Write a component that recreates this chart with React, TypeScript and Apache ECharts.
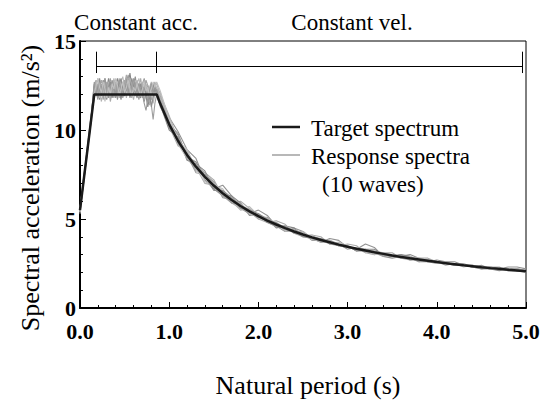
import React, { useEffect, useRef } from "react";
import * as echarts from "echarts";

// Natural periods (s) shared by the 10 response spectra
const periods = [
  0, 0.04, 0.08, 0.12,
  0.16, 0.18, 0.2, 0.22, 0.24, 0.26, 0.28, 0.3, 0.32, 0.34, 0.36, 0.38,
  0.4, 0.42, 0.44, 0.46, 0.48, 0.5, 0.52, 0.54, 0.56, 0.58, 0.6, 0.62,
  0.64, 0.66, 0.68, 0.7, 0.72, 0.74, 0.76, 0.78, 0.8, 0.82, 0.84, 0.86,
  0.9,
  1.0, 1.1, 1.2, 1.3, 1.4, 1.5, 1.6, 1.7, 1.8, 1.9,
  2.0, 2.1, 2.2, 2.3, 2.4, 2.5, 2.6, 2.7, 2.8, 2.9,
  3.0, 3.1, 3.2, 3.3, 3.4, 3.5, 3.6, 3.7, 3.8, 3.9,
  4.0, 4.1, 4.2, 4.3, 4.4, 4.5, 4.6, 4.7, 4.8, 4.9,
  5.0,
];

// Response spectra (m/s^2), one array per wave, aligned with periods
const wave1 = [
  5.4, 7.1, 8.9, 10.6,
  12.3, 12.8, 12.1, 12.6, 11.9, 12.4, 12.9, 12.2, 11.8, 12.5, 12.7, 12.0,
  12.4, 11.7, 12.3, 12.8, 12.5, 12.1, 12.9, 12.4, 11.8, 12.2, 12.6, 13.0,
  12.3, 11.9, 12.4, 12.1, 11.6, 12.0, 12.5, 12.2, 11.7, 12.3, 12.6, 12.1,
  11.9,
  10.7, 9.9, 8.9, 8.4, 7.2, 6.7, 6.9, 6.3, 5.6, 5.3,
  5.5, 5.2, 4.6, 4.3, 4.5, 4.3, 3.9, 3.7, 3.9, 3.8,
  3.4, 3.3, 3.6, 3.4, 2.9, 2.8, 2.9, 3.0, 2.8, 2.6,
  2.5, 2.6, 2.6, 2.4, 2.3, 2.3, 2.3, 2.2, 2.3, 2.3,
  2.2,
];
const wave2 = [
  5.6, 7.3, 8.7, 10.3,
  11.9, 12.4, 12.9, 12.3, 12.6, 11.8, 12.2, 12.7, 12.4, 11.6, 12.1, 12.8,
  12.5, 12.2, 12.9, 12.3, 11.9, 12.6, 13.1, 12.5, 12.2, 11.8, 12.4, 12.7,
  12.0, 12.5, 12.9, 12.2, 11.7, 12.3, 12.0, 11.4, 11.9, 12.4, 12.7, 12.3,
  12.1,
  10.2, 9.1, 8.9, 7.7, 7.6, 7.2, 6.3, 5.9, 6.0, 5.6,
  5.0, 4.8, 4.9, 4.7, 4.2, 4.0, 4.1, 4.0, 3.6, 3.5,
  3.6, 3.5, 3.1, 3.0, 3.1, 3.1, 2.8, 2.7, 2.8, 2.8,
  2.6, 2.4, 2.5, 2.5, 2.3, 2.2, 2.3, 2.3, 2.1, 2.1,
  2.1,
];
const wave3 = [
  5.5, 7.0, 8.8, 10.4,
  12.6, 12.1, 12.5, 11.7, 12.2, 12.8, 12.0, 12.3, 12.9, 12.4, 11.8, 12.3,
  12.6, 12.9, 12.2, 11.7, 12.4, 12.8, 12.1, 12.6, 13.2, 12.5, 12.0, 12.4,
  12.7, 12.1, 11.8, 12.5, 12.3, 11.9, 11.3, 11.8, 12.2, 12.6, 12.2, 11.9,
  11.4,
  10.0, 9.6, 8.3, 8.1, 7.7, 6.7, 6.3, 6.3, 5.9, 5.2,
  5.3, 5.0, 4.5, 4.6, 4.5, 4.0, 3.9, 3.9, 3.7, 3.5,
  3.5, 3.2, 3.3, 3.3, 3.0, 2.9, 3.0, 2.9, 2.6, 2.6,
  2.7, 2.6, 2.4, 2.4, 2.4, 2.3, 2.2, 2.1, 2.2, 2.2,
  2.1,
];
const wave4 = [
  5.3, 7.2, 8.9, 10.6,
  12.1, 12.7, 12.3, 11.8, 12.5, 12.2, 11.6, 12.3, 12.7, 12.1, 12.5, 11.9,
  12.6, 12.3, 12.0, 12.7, 13.0, 12.4, 12.0, 12.5, 12.1, 12.7, 12.3, 11.9,
  12.6, 12.9, 12.4, 11.9, 12.2, 12.6, 12.3, 11.8, 12.1, 11.5, 12.0, 12.4,
  11.8,
  10.6, 9.2, 8.4, 8.2, 7.1, 6.9, 6.7, 5.9, 5.6, 5.7,
  5.2, 4.8, 4.6, 4.6, 4.4, 4.1, 4.1, 3.8, 3.6, 3.7,
  3.5, 3.3, 3.2, 3.0, 3.1, 3.0, 2.8, 2.8, 2.8, 2.7,
  2.5, 2.5, 2.5, 2.3, 2.4, 2.3, 2.2, 2.2, 2.2, 2.1,
  2.1,
];
const wave5 = [
  5.5, 7.1, 8.6, 10.3,
  12.4, 11.9, 12.3, 12.8, 12.2, 11.7, 12.4, 12.0, 12.5, 12.9, 12.3, 11.8,
  12.2, 12.6, 12.1, 12.4, 11.9, 12.3, 12.7, 13.1, 12.6, 12.0, 12.3, 12.6,
  12.2, 11.7, 12.1, 12.6, 12.9, 12.4, 12.0, 12.3, 11.4, 10.6, 11.5, 12.0,
  11.3,
  10.4, 9.7, 8.6, 7.6, 7.5, 7.1, 6.2, 6.1, 5.9, 5.3,
  5.1, 5.1, 4.7, 4.4, 4.4, 4.2, 3.8, 3.8, 3.8, 3.6,
  3.3, 3.4, 3.3, 3.1, 2.9, 3.0, 2.9, 2.8, 2.6, 2.7,
  2.6, 2.5, 2.4, 2.4, 2.4, 2.2, 2.2, 2.2, 2.2, 2.1,
  2.0,
];
const wave6 = [
  5.6, 7.2, 8.8, 10.5,
  11.8, 12.3, 12.6, 12.1, 11.6, 12.2, 12.7, 12.4, 12.0, 12.6, 12.3, 12.9,
  12.4, 11.9, 12.4, 12.1, 12.7, 12.4, 11.8, 12.3, 12.8, 12.2, 11.7, 12.2,
  12.8, 12.4, 12.0, 12.6, 12.8, 12.3, 11.8, 12.4, 12.7, 12.2, 12.5, 12.6,
  12.0,
  10.8, 9.4, 8.8, 7.9, 7.0, 6.9, 6.6, 6.0, 5.5, 5.6,
  5.2, 4.8, 4.8, 4.3, 4.3, 4.3, 3.9, 3.7, 3.8, 3.5,
  3.4, 3.4, 3.1, 3.2, 3.1, 2.9, 2.8, 2.9, 2.7, 2.6,
  2.6, 2.6, 2.4, 2.4, 2.3, 2.3, 2.3, 2.2, 2.1, 2.1,
  2.1,
];
const wave7 = [
  5.4, 7.0, 8.7, 10.4,
  12.5, 12.0, 12.4, 12.9, 12.3, 12.6, 12.1, 11.7, 12.3, 12.7, 12.2, 12.5,
  11.8, 12.2, 12.6, 12.9, 12.3, 11.9, 12.5, 12.1, 12.4, 12.9, 12.5, 12.1,
  11.8, 12.3, 12.6, 12.0, 12.4, 12.1, 11.6, 12.0, 11.3, 11.8, 12.3, 12.0,
  11.5,
  10.1, 9.5, 8.5, 8.2, 7.4, 6.6, 6.6, 6.2, 5.6, 5.5,
  5.3, 4.8, 4.6, 4.6, 4.3, 4.0, 4.0, 3.9, 3.6, 3.6,
  3.5, 3.2, 3.2, 3.2, 3.0, 2.9, 3.0, 2.7, 2.7, 2.7,
  2.6, 2.5, 2.5, 2.4, 2.3, 2.4, 2.2, 2.2, 2.2, 2.1,
  2.1,
];
const wave8 = [
  5.5, 7.3, 8.9, 10.6,
  12.2, 12.6, 11.8, 12.3, 12.8, 12.5, 12.0, 12.6, 12.2, 11.8, 12.4, 12.0,
  12.7, 12.3, 11.8, 12.4, 12.2, 12.8, 12.5, 12.0, 12.5, 12.3, 12.8, 12.4,
  12.0, 12.6, 12.2, 11.8, 12.4, 12.8, 12.5, 12.1, 12.6, 12.3, 11.9, 12.3,
  11.7,
  10.5, 9.2, 8.7, 8.0, 7.6, 6.8, 6.3, 6.2, 5.8, 5.4,
  5.0, 5.0, 4.7, 4.4, 4.3, 4.2, 4.0, 3.7, 3.7, 3.6,
  3.4, 3.3, 3.3, 3.1, 3.0, 3.0, 2.9, 2.8, 2.7, 2.6,
  2.6, 2.5, 2.5, 2.4, 2.3, 2.2, 2.3, 2.2, 2.2, 2.2,
  2.1,
];
const wave9 = [
  5.6, 7.1, 8.8, 10.4,
  12.7, 12.2, 11.7, 12.4, 12.0, 12.6, 12.9, 12.3, 11.9, 12.3, 12.8, 12.4,
  11.9, 12.5, 12.8, 12.2, 11.8, 12.2, 12.6, 12.3, 11.9, 12.5, 12.9, 12.4,
  12.1, 12.6, 12.3, 12.0, 11.5, 11.1, 11.7, 12.2, 12.6, 12.1, 12.4, 12.2,
  11.6,
  10.3, 9.8, 8.4, 7.8, 7.5, 7.0, 6.4, 5.9, 5.8, 5.5,
  5.1, 4.9, 4.8, 4.5, 4.2, 4.1, 3.9, 3.8, 3.7, 3.5,
  3.4, 3.3, 3.2, 3.1, 3.0, 2.9, 2.9, 2.8, 2.7, 2.6,
  2.6, 2.5, 2.4, 2.4, 2.3, 2.3, 2.2, 2.2, 2.1, 2.1,
  2.1,
];
const wave10 = [
  5.4, 7.2, 8.7, 10.5,
  12.0, 12.5, 12.9, 12.4, 12.1, 12.7, 12.3, 11.8, 12.4, 12.0, 12.6, 12.3,
  12.9, 12.5, 12.0, 12.3, 12.7, 12.1, 12.4, 12.8, 12.3, 11.9, 12.4, 12.2,
  12.6, 12.2, 11.9, 12.3, 12.7, 12.2, 12.4, 11.9, 12.3, 12.7, 12.4, 12.7,
  12.2,
  10.6, 9.4, 8.9, 7.8, 7.3, 7.0, 6.5, 6.0, 5.8, 5.3,
  5.2, 4.9, 4.7, 4.5, 4.3, 4.2, 4.0, 3.8, 3.7, 3.6,
  3.4, 3.4, 3.2, 3.2, 3.0, 3.0, 2.9, 2.8, 2.7, 2.7,
  2.5, 2.5, 2.5, 2.4, 2.4, 2.3, 2.2, 2.2, 2.2, 2.1,
  2.1,
];
const waves = [wave1, wave2, wave3, wave4, wave5, wave6, wave7, wave8, wave9, wave10];
const waveColors = [
  "#939393", "#ababab", "#888888", "#bbbbbb", "#9e9e9e",
  "#b3b3b3", "#8f8f8f", "#a7a7a7", "#999999", "#c0c0c0",
];

// Target spectrum (m/s^2)
const targetPeriods = [
  0, 0.16, 0.86, 0.9,
  1.0, 1.1, 1.2, 1.3, 1.4, 1.5, 1.6, 1.7, 1.8, 1.9,
  2.0, 2.1, 2.2, 2.3, 2.4, 2.5, 2.6, 2.7, 2.8, 2.9,
  3.0, 3.1, 3.2, 3.3, 3.4, 3.5, 3.6, 3.7, 3.8, 3.9,
  4.0, 4.1, 4.2, 4.3, 4.4, 4.5, 4.6, 4.7, 4.8, 4.9,
  5.0,
];
const targetValues = [
  5.5, 12.0, 12.0, 11.47,
  10.32, 9.38, 8.6, 7.94, 7.37, 6.88, 6.45, 6.07, 5.73, 5.43,
  5.16, 4.91, 4.69, 4.49, 4.3, 4.13, 3.97, 3.82, 3.69, 3.56,
  3.44, 3.33, 3.23, 3.13, 3.04, 2.95, 2.87, 2.79, 2.72, 2.65,
  2.58, 2.52, 2.46, 2.4, 2.35, 2.29, 2.24, 2.2, 2.15, 2.11,
  2.06,
];

// Period-range bracket (constant acceleration / constant velocity)
const bracketTicks = [0.18, 0.86, 4.96];
const bracketLevel = 13.6;
const bracketTickRange = [13.2, 14.4];

const xTickLabels = ["0.0", "1.0", "2.0", "3.0", "4.0", "5.0"];
const yTickLabels = ["0", "5", "10", "15"];

const FONT = "Liberation Serif";

export default function App() {
  const ref = useRef<HTMLDivElement>(null);

  useEffect(() => {
    const chart = echarts.init(ref.current!, null, { renderer: "svg" });

    const waveSeries = waves.map((w, i) => ({
      type: "line",
      name: "Response spectra " + (i + 1),
      data: periods.map((p, j) => [p, w[j]]),
      symbol: "none",
      showSymbol: false,
      silent: true,
      z: 2,
      lineStyle: { color: waveColors[i], width: 1.1 },
    }));

    const bracketLines: any[] = [
      [
        { coord: [bracketTicks[0], bracketLevel] },
        { coord: [bracketTicks[bracketTicks.length - 1], bracketLevel] },
      ],
      ...bracketTicks.map((t) => [
        { coord: [t, bracketTickRange[0]] },
        { coord: [t, bracketTickRange[1]] },
      ]),
    ];

    const txt = (text: string, x: number, y: number, size: number, align = "left", extra: any = {}) => ({
      type: "text",
      x,
      y,
      ...extra,
      style: {
        text,
        fontFamily: FONT,
        fontSize: size,
        fill: "#000",
        align,
        verticalAlign: "middle",
      },
    });

    chart.setOption({
      animation: false,
      backgroundColor: "#ffffff",
      grid: {
        left: 80,
        top: 41,
        right: 25,
        bottom: 93,
        show: true,
        borderColor: "#000",
        borderWidth: 1,
        backgroundColor: "transparent",
      },
      xAxis: {
        type: "value",
        min: 0,
        max: 5,
        interval: 1,
        axisLine: { show: true, lineStyle: { color: "#000", width: 2 } },
        axisTick: { show: true, inside: true, length: 6, lineStyle: { color: "#000", width: 1 } },
        minorTick: { show: true, splitNumber: 5, length: 3, lineStyle: { color: "#000", width: 1 } },
        splitLine: { show: false },
        axisLabel: {
          margin: 14,
          color: "#000",
          fontFamily: FONT,
          fontSize: 22,
          lineHeight: 18,
          fontWeight: "bold",
          formatter: (v: number) => xTickLabels[Math.round(v)] ?? "",
        },
      },
      yAxis: {
        type: "value",
        min: 0,
        max: 15,
        interval: 5,
        axisLine: { show: true, lineStyle: { color: "#000", width: 2 } },
        axisTick: { show: true, inside: true, length: 6, lineStyle: { color: "#000", width: 1 } },
        minorTick: { show: true, splitNumber: 5, length: 3, lineStyle: { color: "#000", width: 1 } },
        splitLine: { show: false },
        axisLabel: {
          margin: 4,
          color: "#000",
          fontFamily: FONT,
          fontSize: 22,
          lineHeight: 16,
          fontWeight: "bold",
          formatter: (v: number) => yTickLabels[Math.round(v / 5)] ?? "",
        },
      },
      series: [
        ...waveSeries,
        {
          type: "line",
          name: "Target spectrum",
          data: targetPeriods.map((p, i) => [p, targetValues[i]]),
          symbol: "none",
          showSymbol: false,
          silent: true,
          z: 5,
          lineStyle: { color: "#1a1a1a", width: 2.5 },
          markLine: {
            silent: true,
            symbol: ["none", "none"],
            label: { show: false },
            lineStyle: { color: "#000", width: 1, type: "solid" },
            data: bracketLines,
          },
        },
      ],
      graphic: [
        txt("Constant acc.", 136, 22, 23, "center"),
        txt("Constant vel.", 352, 22, 23, "center"),
        {
          type: "line",
          shape: { x1: 272, y1: 127, x2: 300, y2: 127 },
          style: { stroke: "#1a1a1a", lineWidth: 2.5 },
        },
        txt("Target spectrum", 311, 128, 23),
        {
          type: "line",
          shape: { x1: 272, y1: 155, x2: 300, y2: 155 },
          style: { stroke: "#a0a0a0", lineWidth: 1.5 },
        },
        txt("Response spectra", 311, 156, 23),
        txt("(10 waves)", 322, 184, 23),
        txt("Natural period (s)", 308, 385, 26, "center"),
        txt("Spectral acceleration (m/s²)", 30, 188, 26, "center", { rotation: Math.PI / 2 }),
      ],
    });

    return () => chart.dispose();
  }, []);

  return (
    <div
      ref={ref}
      style={{ position: "absolute", left: 0, top: 0, width: 551, height: 401 }}
    />
  );
}
